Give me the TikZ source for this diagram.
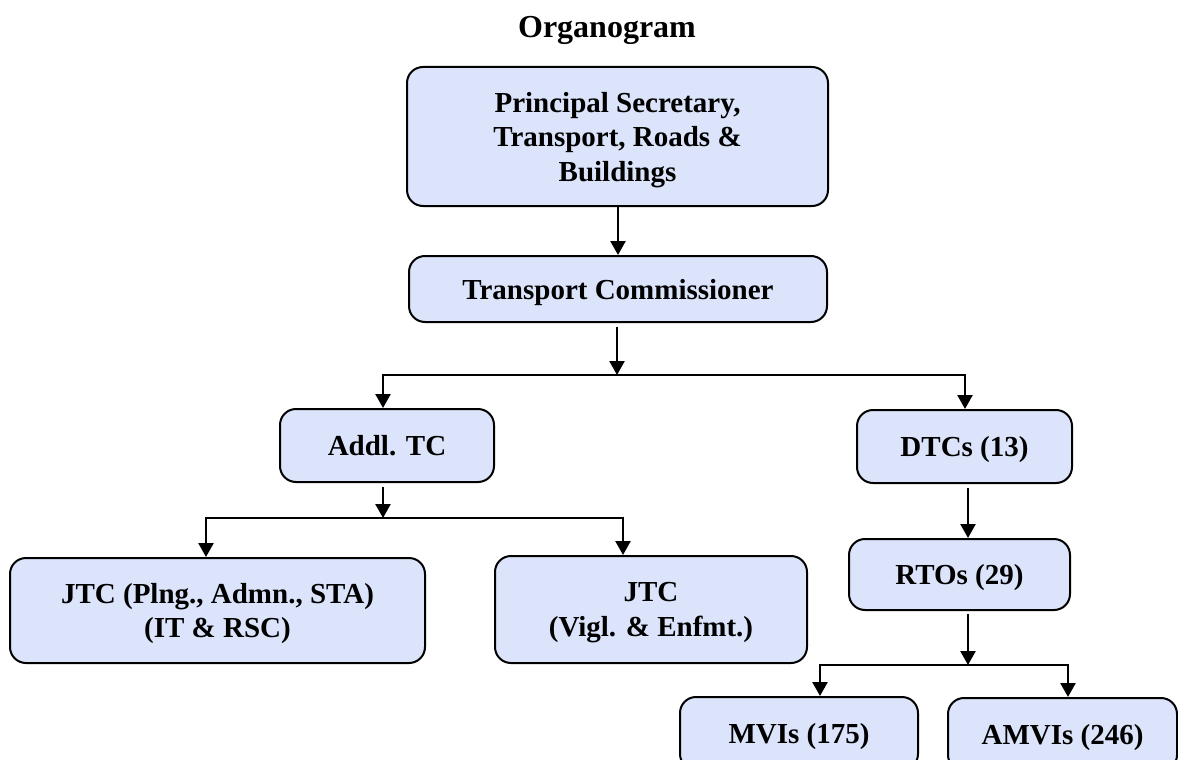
\documentclass[tikz,border=0pt]{standalone}
\usepackage{fontspec}
\setmainfont{Liberation Serif}
\usetikzlibrary{arrows.meta}
\definecolor{boxfill}{RGB}{219,228,251}
\begin{document}
\begin{tikzpicture}[x=1pt,y=-1pt,
  orgbox/.style={draw=black, line width=2pt, fill=boxfill, rounded corners=16pt,
    align=center, inner sep=0pt, text depth=0pt, font=\bfseries\fontsize{29}{34.5}\selectfont},
  arr/.style={line width=2.5pt, -{Triangle[width=15pt,length=14pt]}},
  link/.style={line width=2.5pt}]
\useasboundingbox (0,0) rectangle (1178,760);
\clip (0,0) rectangle (1178,760);
\node[anchor=base, font=\bfseries\fontsize{32}{38}\selectfont] (title) at (607,38) {Organogram};
\node[orgbox, minimum width=421pt, minimum height=139pt] (ps) at (617.5,136.5)
  {Principal Secretary,\\Transport, Roads \&\\Buildings};
\node[orgbox, minimum width=418pt, minimum height=66pt] (tc) at (618,289) {Transport Commissioner};
\node[orgbox, minimum width=214pt, minimum height=73pt] (addl) at (387,445.5) {Addl. TC};
\node[orgbox, minimum width=215pt, minimum height=73pt] (dtc) at (964.5,446.5) {DTCs (13)};
\node[orgbox, minimum width=415pt, minimum height=105pt] (jtc1) at (217.5,610.5) {JTC (Plng., Admn., STA)\\(IT \& RSC)};
\node[orgbox, minimum width=312pt, minimum height=107pt] (jtc2) at (651,609.5) {JTC\\(Vigl. \& Enfmt.)};
\node[orgbox, minimum width=221pt, minimum height=71pt] (rto) at (959.5,574.5) {RTOs (29)};
\node[orgbox, minimum width=238pt, minimum height=73pt] (mvi) at (799,733.5) {MVIs (175)};
\node[orgbox, minimum width=229pt, minimum height=73pt] (amvi) at (1062.5,734.5) {AMVIs (246)};
% connector junction points
\coordinate (s1) at (618,206);
\coordinate (s2) at (617,327);
\coordinate (bus1) at (617,375);
\coordinate (bus1L) at (383,375);
\coordinate (bus1R) at (965,375);
\coordinate (s3) at (383,487);
\coordinate (bus2) at (383,518);
\coordinate (bus2L) at (206,518);
\coordinate (bus2R) at (623,518);
\coordinate (s4) at (968,488);
\coordinate (s5) at (968,614);
\coordinate (bus3) at (968,665);
\coordinate (bus3L) at (820,665);
\coordinate (bus3R) at (1068,665);
% connectors
\draw[arr] (s1) -- (s1 |- tc.north);
\draw[arr] (s2) -- (bus1);
\draw[arr] (bus1) -| (bus1L |- addl.north);
\draw[arr] (bus1) -| (bus1R |- dtc.north);
\draw[arr] (s3) -- (bus2);
\draw[arr] (bus2) -| (bus2L |- jtc1.north);
\draw[arr] (bus2) -| (bus2R |- jtc2.north);
\draw[arr] (s4) -- (s4 |- rto.north);
\draw[arr] (s5) -- (bus3);
\draw[arr] (bus3) -| (bus3L |- mvi.north);
\draw[arr] (bus3) -| (bus3R |- amvi.north);
\end{tikzpicture}
\end{document}
